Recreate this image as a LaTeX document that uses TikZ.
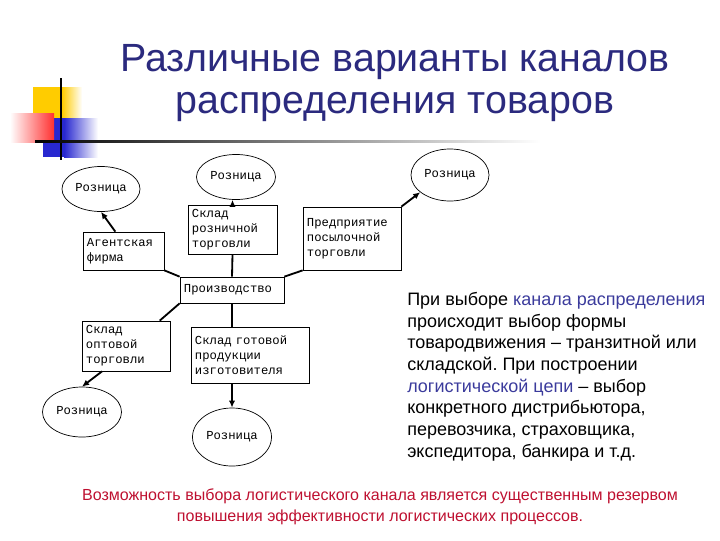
\documentclass[tikz,border=0pt]{standalone}
\usepackage{fontspec}
\setmainfont{Liberation Sans}
\newfontfamily\monof{Liberation Mono}
\usetikzlibrary{shapes.geometric,arrows.meta,calc}
\definecolor{titlec}{HTML}{2B2A7E}
\definecolor{bluec}{HTML}{3B3B9C}
\definecolor{redc}{HTML}{BE1030}
\definecolor{yellowc}{HTML}{FFCC00}
\definecolor{redsq}{HTML}{FF3030}
\definecolor{bluesq}{HTML}{2828D0}
\frenchspacing

\begin{document}
\begin{tikzpicture}[x=0.025cm, y=-0.025cm,
  box/.style={draw, line width=0.5pt, font=\monof\fontsize{8.7}{10.6}\selectfont,
    align=left, inner xsep=0.1cm, inner ysep=0pt},
  oval/.style={draw, ellipse, line width=0.5pt, font=\monof\fontsize{8.7}{10.6}\selectfont,
    inner sep=0pt},
  conn/.style={line width=1.3pt},
  arr/.style={conn, -{Latex[length=5pt,width=4.5pt]}}]
  \useasboundingbox (0,0) rectangle (720,540);
  % corner squares
  \fill[yellowc] (33,87) rectangle (62,118);
  \shade[left color=yellowc, right color=white] (62,87) rectangle (82,118);
  \fill[bluesq] (43,118) rectangle (64,157);
  \shade[left color=bluesq, right color=white] (64,118) rectangle (98,157);
  \shade[left color=white, right color=redsq] (10,113) rectangle (54,142);
  \fill[black] (60,78) rectangle (62,160);
  \shade[left color=black, middle color=black!60, right color=white] (35,140) rectangle (540,142);

  \node[text=titlec, font=\fontsize{28}{30.5}\selectfont, align=center] (title) at (395,83)
    {Различные варианты каналов\\распределения товаров};

  % channel scheme
  \node[box, text width=2.4cm, minimum height=0.65cm] (proizv) at (232,290) {Производство};
  \node[box, text width=1.825cm, minimum height=0.95cm] (agent) at (123.5,251) {Агентская\\фирма};
  \node[box, text width=2.025cm, minimum height=1.225cm] (sklroz) at (232.5,229.5) {Склад\\розничной\\торговли};
  \node[box, text width=2.25cm, minimum height=1.575cm] (predp) at (352,238.5) {Предприятие\\посылочной\\торговли};
  \node[box, text width=2.0cm, minimum height=1.25cm] (sklopt) at (126,346) {Склад\\оптовой\\торговли};
  \node[box, text width=2.75cm, minimum height=1.4cm] (sklgot) at (250,355) {Склад готовой\\продукции\\изготовителя};

  \node[oval, minimum width=1.975cm, minimum height=1.125cm] (troz) at (236,177) {Розница};
  \node[oval, minimum width=1.95cm, minimum height=1.125cm] (lroz) at (101,189) {Розница};
  \node[oval, minimum width=1.95cm, minimum height=1.3cm] (trroz) at (450,175) {Розница};
  \node[oval, minimum width=1.975cm, minimum height=1.25cm] (blroz) at (82,412) {Розница};
  \node[oval, minimum width=1.975cm, minimum height=1.45cm] (broz) at (232,437) {Розница};

  \draw[conn] (proizv.north) -- (sklroz.south);
  \draw[arr] (sklroz.north) -- (sklroz.north |- troz.south);
  \draw[conn] (proizv.north west) -- (agent.south east);
  \draw[arr] ($(agent.north west)!0.4!(agent.north east)$) -- (lroz.south);
  \draw[conn] (proizv.north east) -- (predp.south west);
  \draw[arr] (predp.north east) -- (trroz.-150);
  \draw[conn] (proizv.south west) -- ($(sklopt.north west)!0.88!(sklopt.north east)$);
  \draw[arr] ($(sklopt.south west)!0.23!(sklopt.south east)$) -- (blroz.north);
  \draw[conn] (proizv.south) -- (proizv.south |- sklgot.north);
  \draw[arr] (proizv.south |- sklgot.south) -- (broz.north);

  \node[anchor=north west, align=left, font=\fontsize{12.8}{15.4}\selectfont, inner sep=0pt] (note) at (407,292)
    {При выборе \textcolor{bluec}{канала распределения}\\происходит выбор формы\\товародвижения – транзитной или\\складской. При построении\\\textcolor{bluec}{логистической цепи} – выбор\\конкретного дистрибьютора,\\перевозчика, страховщика,\\экспедитора, банкира и т.д.};

  \node[text=redc, font=\fontsize{11.4}{15}\selectfont, align=center] (concl) at (380,507)
    {Возможность выбора логистического канала является существенным резервом\\повышения эффективности логистических процессов.};
\end{tikzpicture}
\end{document}
